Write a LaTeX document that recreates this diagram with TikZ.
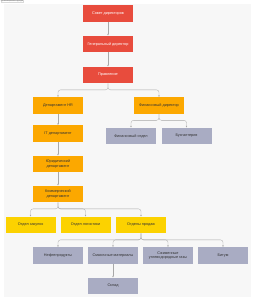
\documentclass[tikz,border=0pt]{standalone}
\usepackage{fontspec}
\setmainfont{Liberation Sans}
\usetikzlibrary{arrows.meta}
\definecolor{cred}{HTML}{E84C3D}
\definecolor{corange}{HTML}{FCA800}
\definecolor{cyellow}{HTML}{FCD200}
\definecolor{cgray}{HTML}{A9ACC3}
\definecolor{cpanel}{HTML}{F7F7F7}
\definecolor{cline}{HTML}{A8A8A8}
\definecolor{ctext}{HTML}{333333}
\begin{document}
\begin{tikzpicture}[x=2pt,y=-2pt,
  box/.style={rectangle,minimum width=100pt,minimum height=33pt,inner sep=1pt,align=center,font=\fontsize{7.6}{9}\selectfont},
  redbox/.style={box,fill=cred,text=white},
  orbox/.style={box,fill=corange,text=ctext},
  yebox/.style={box,fill=cyellow,text=ctext},
  grbox/.style={box,fill=cgray,text=ctext},
  conn/.style={draw=cline,line width=0.6pt,rounded corners=5pt,-{Latex[length=3.5pt,width=3pt]}}]
\useasboundingbox (0,0) rectangle (254,300);
\fill[white] (0,0) rectangle (254,300);
\fill[cpanel] (3.5,3.5) rectangle (250.5,297);
\node[draw=black!15,fill=white,inner sep=0.6pt,anchor=north west,font=\fontsize{3.4}{4}\selectfont,text=black!60] (title) at (0.5,0) {Организационная структура};
\node[redbox] (sovet) at (108,13.5) {Совет директоров};
\node[redbox] (gen) at (108,44) {Генеральный директор};
\node[redbox] (prav) at (108,75) {Правление};
\node[orbox] (hr) at (58,105.5) {Департамент HR};
\node[orbox] (findir) at (159,105.5) {Финансовый директор};
\node[grbox] (finotd) at (131,136) {Финансовый отдел};
\node[grbox] (buh) at (186.5,136) {Бухгалтерия};
\node[orbox] (it) at (58,133.5) {IT департамент};
\node[orbox] (jur) at (58,164) {Юридический\\департамент};
\node[orbox] (kom) at (58,194) {Коммерческий\\департамент};
\node[yebox] (zak) at (30.5,225) {Отдел закупок};
\node[yebox] (log) at (85.5,225) {Отдел логистики};
\node[yebox] (prod) at (141,225) {Отделы продаж};
\node[grbox] (neft) at (58,255.5) {Нефтепродукты};
\node[grbox] (smaz) at (113,255.5) {Смазочные материалы};
\node[grbox] (szh) at (168,255.5) {Сжиженные\\углеводородные газы};
\node[grbox] (bitum) at (223,255.5) {Битум};
\node[grbox] (sklad) at (113,286) {Склад};
\draw[conn] (sovet) -- (gen);
\draw[conn] (gen) -- (prav);
\draw[conn] (prav.south) -- ++(0,6.5) -| (hr.north);
\draw[conn] (prav.south) -- ++(0,6.5) -| (findir.north);
\draw[conn] (findir.south) -- ++(0,6.5) -| (finotd.north);
\draw[conn] (findir.south) -- ++(0,6.5) -| (buh.north);
\draw[conn] (hr) -- (it);
\draw[conn] (it) -- (jur);
\draw[conn] (jur) -- (kom);
\draw[conn] (kom.south) -- ++(0,6.5) -| (zak.north);
\draw[conn] (kom.south) -- ++(0,6.5) -| (log.north);
\draw[conn] (kom.south) -- ++(0,6.5) -| (prod.north);
\draw[conn] (prod.south) -- ++(0,6.5) -| (neft.north);
\draw[conn] (prod.south) -- ++(0,6.5) -| (smaz.north);
\draw[conn] (prod.south) -- ++(0,6.5) -| (szh.north);
\draw[conn] (prod.south) -- ++(0,6.5) -| (bitum.north);
\draw[conn] (smaz) -- (sklad);
\end{tikzpicture}
\end{document}
